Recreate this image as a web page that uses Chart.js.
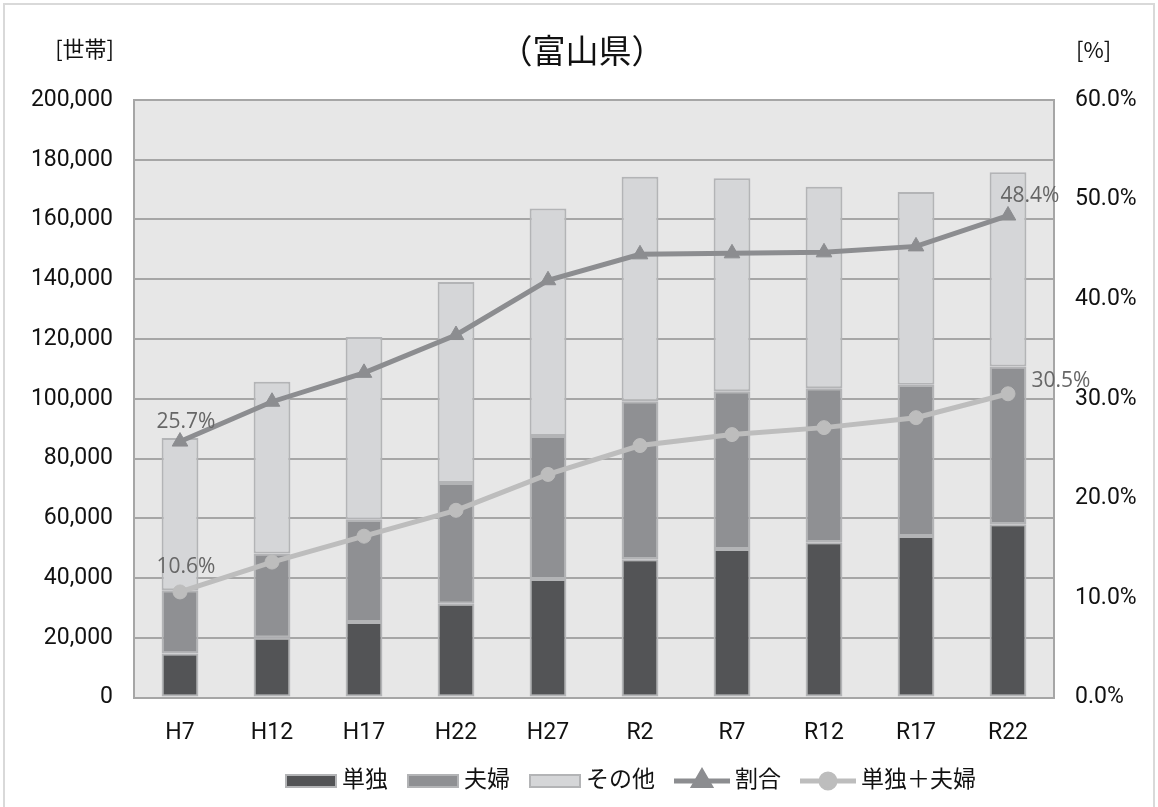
<!DOCTYPE html>
<html lang="ja">
<head>
<meta charset="utf-8">
<title>富山県 世帯数の推移</title>
<script src="https://cdn.jsdelivr.net/npm/chart.js@4.4.1/dist/chart.umd.min.js"></script>
<style>
  html, body { margin: 0; padding: 0; background: #fff; }
  canvas { display: block; }
</style>
</head>
<body>
<canvas id="households" width="1158" height="807"></canvas>
<script>
'use strict';

const years = ['H7', 'H12', 'H17', 'H22', 'H27', 'R2', 'R7', 'R12', 'R17', 'R22'];
const single = [14700, 20000, 25300, 31400, 39700, 46300, 49700, 52000, 54100, 58000];
const couple = [21200, 28200, 34200, 40400, 47800, 52900, 52800, 51500, 50600, 52800];
const others = [51000, 57500, 61200, 67300, 76200, 75100, 71300, 67500, 64500, 65000];
const ratio = [25.7, 29.7, 32.6, 36.4, 41.9, 44.5, 44.6, 44.7, 45.3, 48.4];
const singleCoupleRatio = [10.6, 13.6, 16.2, 18.8, 22.4, 25.3, 26.4, 27.1, 28.1, 30.5];

const LATIN = "Roboto, 'Noto Sans CJK JP', sans-serif";
const CJK = "'Noto Sans CJK JP', sans-serif";
const GRID = '#a6a6a6';
const BAR_EDGE = '#b3b4b6';

Chart.defaults.font.family = LATIN;
Chart.defaults.color = '#111';

// labels shown only on the first and last point of each line
const labelOffsets = {
  ratio: { first: [6, -20], last: [22, -20] },
  singleCouple: { first: [6, -25], last: [53, -13] },
};

const frame = {
  id: 'frame',
  beforeDraw(chart) {
    const { ctx, chartArea: a } = chart;
    ctx.save();
    ctx.fillStyle = '#fff';
    ctx.fillRect(0, 0, chart.width, chart.height);
    ctx.strokeStyle = '#d9d9d9';
    ctx.lineWidth = 2;
    ctx.strokeRect(4, 4, 1150, 900);
    ctx.fillStyle = '#e7e7e7';
    ctx.fillRect(a.left, a.top, a.right - a.left, a.bottom - a.top);
    ctx.restore();
  },
};

const captions = {
  id: 'captions',
  afterDraw(chart) {
    const { ctx } = chart;
    ctx.save();
    ctx.fillStyle = '#111';
    ctx.textBaseline = 'middle';
    ctx.font = `33px ${CJK}`;
    ctx.textAlign = 'center';
    ctx.fillText('（富山県）', 582, 50);
    ctx.font = `22px ${CJK}`;
    ctx.textAlign = 'right';
    ctx.fillText('[世帯]', 114, 49);
    ctx.textAlign = 'left';
    ctx.fillText('[%]', 1076, 50);
    ctx.restore();
  },
};

const pointLabels = {
  id: 'pointLabels',
  afterDatasetsDraw(chart) {
    const { ctx } = chart;
    ctx.save();
    ctx.font = "21px 'Open Sans', sans-serif";
    ctx.fillStyle = '#666';
    ctx.textAlign = 'center';
    ctx.textBaseline = 'middle';
    chart.data.datasets.forEach((ds, i) => {
      const offs = labelOffsets[ds.key];
      if (!offs) return;
      const meta = chart.getDatasetMeta(i);
      const last = ds.data.length - 1;
      [[0, offs.first], [last, offs.last]].forEach(([idx, off]) => {
        const pt = meta.data[idx];
        ctx.fillText(ds.data[idx].toFixed(1) + '%', pt.x + off[0], pt.y + off[1]);
      });
    });
    ctx.restore();
  },
};

const legendRow = {
  id: 'legendRow',
  afterDraw(chart) {
    const { ctx } = chart;
    const y = 781;
    let x = 285;
    ctx.save();
    ctx.font = `23px ${CJK}`;
    ctx.textBaseline = 'middle';
    ctx.textAlign = 'left';
    chart.data.datasets.forEach(ds => {
      if (ds.type === 'bar') {
        ctx.fillStyle = ds.backgroundColor;
        ctx.fillRect(x, y - 7, 52, 14);
        ctx.strokeStyle = BAR_EDGE;
        ctx.lineWidth = 2;
        ctx.strokeRect(x + 1, y - 6, 50, 12);
      } else {
        ctx.strokeStyle = ds.borderColor;
        ctx.lineWidth = 5;
        ctx.beginPath();
        ctx.moveTo(x, y);
        ctx.lineTo(x + 56, y);
        ctx.stroke();
        Chart.helpers.drawPoint(ctx, {
          pointStyle: ds.pointStyle,
          radius: ds.pointRadius,
          borderWidth: 1,
        }, x + 28, y);
        ctx.fillStyle = ds.pointBackgroundColor;
        ctx.fill();
      }
      const sw = ds.type === 'bar' ? 52 : 56;
      ctx.fillStyle = '#111';
      ctx.fillText(ds.label, x + sw + 5, y - 3);
      x += sw + 5 + ctx.measureText(ds.label).width + 19;
    });
    ctx.restore();
  },
};

function barSet(label, data, color) {
  return {
    type: 'bar',
    label,
    data,
    backgroundColor: color,
    borderColor: BAR_EDGE,
    borderWidth: 2,
    borderSkipped: false,
    stack: 'households',
    yAxisID: 'y',
    barPercentage: 0.4,
    categoryPercentage: 1,
    order: 2,
  };
}

function lineSet(key, label, data, color, style, radius) {
  return {
    type: 'line',
    key,
    label,
    data,
    borderColor: color,
    borderWidth: 5,
    pointStyle: style,
    pointRadius: radius,
    pointBackgroundColor: color,
    pointBorderColor: color,
    pointBorderWidth: 1,
    tension: 0,
    yAxisID: 'y1',
    order: 1,
  };
}

new Chart(document.getElementById('households').getContext('2d'), {
  data: {
    labels: years,
    datasets: [
      barSet('単独', single, '#535456'),
      barSet('夫婦', couple, '#8f9093'),
      barSet('その他', others, '#d5d6d8'),
      lineSet('ratio', '割合', ratio, '#8c8d90', 'triangle', 9),
      lineSet('singleCouple', '単独＋夫婦', singleCoupleRatio, '#bdbdbd', 'circle', 7),
    ],
  },
  options: {
    responsive: false,
    animation: false,
    devicePixelRatio: 1,
    layout: { padding: { top: 100, bottom: 49.5, left: 0, right: 0 } },
    plugins: {
      legend: { display: false },
      tooltip: { enabled: false },
      title: { display: false },
    },
    scales: {
      x: {
        stacked: true,
        grid: { display: false },
        border: { display: true, color: GRID, width: 2 },
        ticks: { font: { size: 23 }, padding: 14 },
        afterFit(scale) { scale.height = 60; },
      },
      y: {
        stacked: true,
        position: 'left',
        min: 0,
        max: 200000,
        ticks: {
          stepSize: 20000,
          font: { size: 23 },
          padding: 21,
          callback: v => v.toLocaleString('en-US'),
        },
        grid: { color: GRID, lineWidth: 2, drawTicks: false },
        border: { display: true, color: GRID, width: 2 },
        afterFit(scale) { scale.width = 134; },
      },
      y1: {
        position: 'right',
        min: 0,
        max: 60,
        ticks: {
          stepSize: 10,
          font: { size: 23 },
          padding: 21,
          callback: v => v.toFixed(1) + '%',
        },
        grid: { display: false, drawTicks: false },
        border: { display: true, color: GRID, width: 2 },
        afterFit(scale) { scale.width = 104; },
      },
    },
  },
  plugins: [frame, pointLabels, captions, legendRow],
});
</script>
</body>
</html>
